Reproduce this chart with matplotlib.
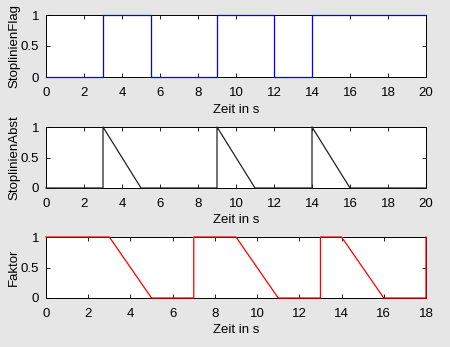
import numpy as np
import matplotlib.pyplot as plt

plt.rcParams['font.family'] = ['Liberation Sans', 'DejaVu Sans']
plt.rcParams['font.size'] = 9.5

# signal vertices (time, value)
flag_t = [0, 3, 3, 5.5, 5.5, 9, 9, 12, 12, 14, 14, 20]
flag_v = [0, 0, 1, 1, 0, 0, 1, 1, 0, 0, 1, 1]

abst_t = [0, 3, 3, 5, 9, 9, 11, 14, 14, 16, 20]
abst_v = [0, 0, 1, 0, 0, 1, 0, 0, 1, 0, 0]

fakt_t = [0, 3, 5, 7, 7, 9, 11, 13, 13, 14, 16, 18, 18]
fakt_v = [1, 1, 0, 0, 1, 1, 0, 0, 1, 1, 0, 0, 1]

fig = plt.figure(figsize=(4.5, 3.47), dpi=100, facecolor='#e6e6e6')

W, H = 450, 347
def add_ax(left, top, right, bottom):
    return fig.add_axes([left / W, 1 - bottom / H, (right - left) / W, (bottom - top) / H])

ax1 = add_ax(46, 15, 426, 77)
ax2 = add_ax(46, 127, 426, 188)
ax3 = add_ax(46, 237, 426, 298)

panels = [
    (ax1, flag_t, flag_v, 'blue', 'StoplinienFlag', 20),
    (ax2, abst_t, abst_v, '#222222', 'StoplinienAbst', 20),
    (ax3, fakt_t, fakt_v, 'red', 'Faktor', 18),
]

for ax, t, v, c, lab, xmax in panels:
    ax.plot(t, v, color=c, lw=0.9, clip_on=False, zorder=3)
    ax.set_xlim(0, xmax)
    ax.set_ylim(0, 1)
    ax.set_xticks(np.arange(0, xmax + 1, 2))
    ax.set_yticks([0, 0.5, 1])
    ax.set_yticklabels(['0', '0.5', '1'])
    ax.tick_params(direction='in', top=True, right=True, length=3, width=0.6)
    ax.tick_params(axis='x', pad=7)
    ax.tick_params(axis='y', pad=5)
    for s in ax.spines.values():
        s.set_linewidth(0.7)
    ax.set_xlabel('Zeit in s')
    ax.set_ylabel(lab)
    ax.xaxis.set_label_coords(0.5, -0.43)
    ax.yaxis.set_label_coords(-0.068, 0.5)

fig.savefig('out.png', dpi=100, facecolor=fig.get_facecolor())
